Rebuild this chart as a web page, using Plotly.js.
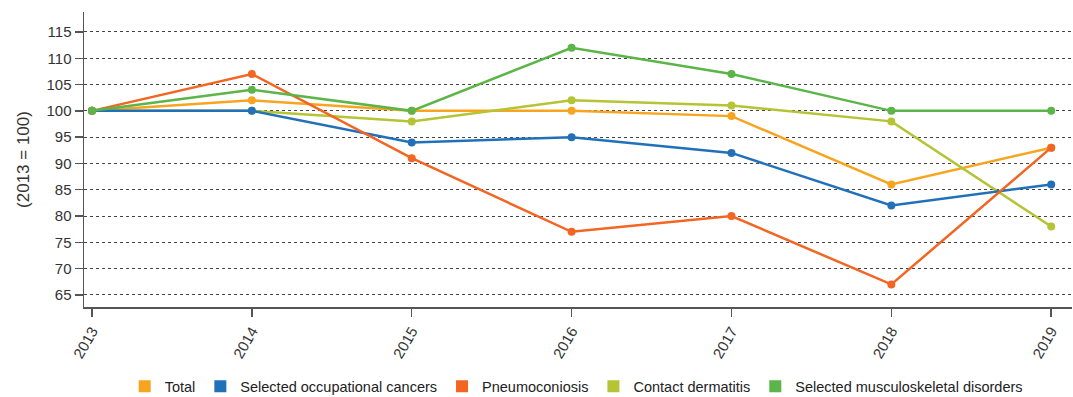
<!DOCTYPE html>
<html>
<head>
<meta charset="utf-8">
<script src="https://cdn.plot.ly/plotly-3.0.1.min.js"></script>
<style>html,body{margin:0;padding:0;background:#fff;}#chart{width:1073px;height:397px;}</style>
</head>
<body>
<div id="chart"></div>
<script>
const years = [2013, 2014, 2015, 2016, 2017, 2018, 2019];
const seriesNames = ["Total", "Selected occupational cancers", "Pneumoconiosis", "Contact dermatitis", "Selected musculoskeletal disorders"];
const total = [100, 102, 100, 100, 99, 86, 93];
const cancers = [100, 100, 94, 95, 92, 82, 86];
const pneumoconiosis = [100, 107, 91, 77, 80, 67, 93];
const dermatitis = [100, 100, 98, 102, 101, 98, 78];
const musculoskeletal = [100, 104, 100, 112, 107, 100, 100];
const yTicks = [65, 70, 75, 80, 85, 90, 95, 100, 105, 110, 115];

const colors = ["#F7A520", "#2271B8", "#F26522", "#B5C334", "#5BB548"];
const values = [total, cancers, pneumoconiosis, dermatitis, musculoskeletal];
const order = [0, 3, 1, 2, 4];

const traces = [];
order.forEach(i => {
  traces.push({
    x: years, y: values[i], type: "scatter", mode: "lines+markers",
    name: seriesNames[i], showlegend: false,
    line: {color: colors[i], width: 2.5},
    marker: {color: colors[i], size: 8},
    hoverinfo: "x+y+name"
  });
});
seriesNames.forEach((n, i) => {
  traces.push({
    x: [null], y: [null], type: "scatter", mode: "markers", name: n,
    marker: {color: colors[i], symbol: "square", size: 12},
    showlegend: true
  });
});

const layout = {
  width: 1073, height: 397,
  margin: {l: 84, r: 1, t: 12, b: 90},
  paper_bgcolor: "#fff", plot_bgcolor: "#fff",
  font: {family: "Liberation Sans, Arial, sans-serif", size: 15, color: "#333"},
  showlegend: true,
  legend: {orientation: "h", xref: "container", x: 0.537, xanchor: "center",
           yref: "container", y: 0.027, yanchor: "middle",
           font: {size: 14.5, color: "#222"}, tracegroupgap: 0},
  xaxis: {
    range: [2012.95, 2019.13], tickvals: years, ticktext: years.map(String),
    tickangle: -60, ticks: "outside", ticklen: 8, tickcolor: "#555", tickwidth: 1.5,
    showline: true, linecolor: "#555", linewidth: 1.5, showgrid: false, zeroline: false,
    tickfont: {size: 15, color: "#333"}, automargin: false
  },
  yaxis: {
    range: [62.7, 118.8], tickvals: yTicks, ticks: "outside", ticklen: 8,
    tickcolor: "#555", tickwidth: 1.5,
    showline: true, linecolor: "#555", linewidth: 1.5,
    showgrid: true, gridcolor: "#444", gridwidth: 1, griddash: "dot", zeroline: false,
    tickfont: {size: 15, color: "#333"}, automargin: false,
    title: {text: "(2013 = 100)", font: {size: 17, color: "#333"}, standoff: 12}
  }
};

Plotly.newPlot("chart", traces, layout, {displayModeBar: false, staticPlot: true});
</script>
</body>
</html>
